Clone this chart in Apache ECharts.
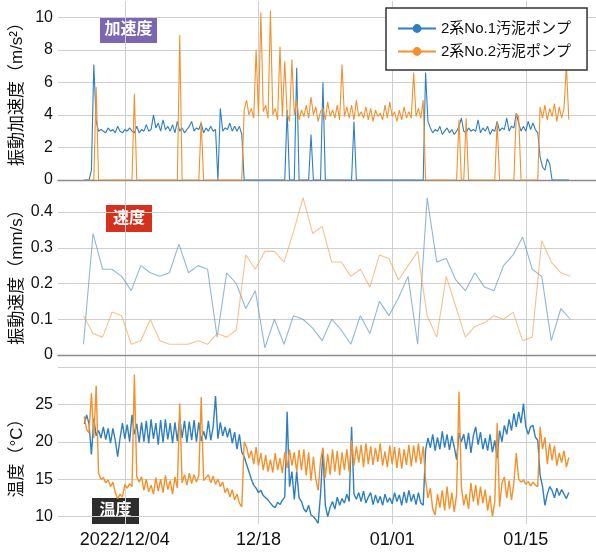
<!DOCTYPE html>
<html><head><meta charset="utf-8">
<script src="https://cdn.jsdelivr.net/npm/echarts@6/dist/echarts.min.js"></script>
<style>html,body{margin:0;padding:0;background:#fff}#c{width:596px;height:553px}</style>
</head><body><div id="c"></div>
<script>
// ---- data (x unit: days since 2022-11-27 00:00) ----
const seriesNames = ['2系No.1汚泥ポンプ', '2系No.2汚泥ポンプ'];
const xTickDays = [7, 21, 35, 49];
const xTickText = ['2022/12/04', '12/18', '01/01', '01/15'];

// 6-hourly samples starting 2022-11-29 18:00
const sampleStartDay = 2.75;
const sampleStepDay = 0.25;

const accelNo1 = [
 0,0,0,0.6, 7.1,3.6,3.0,3.1, 3.0,2.9,3.2,3.0, 3.1,2.9,3.3,3.0, 2.9,3.1,3.0,3.2,
 3.0,2.9,3.3,2.9, 3.1,3.0,3.4,3.0, 3.1,4.0,3.2,3.5, 3.0,3.7,3.1,3.3, 3.0,3.4,2.9,3.6,
 3.0,3.2,2.9,3.1, 3.3,3.6,3.0,3.2, 3.1,3.5,2.9,3.2, 3.0,3.3,3.0,3.1, 0,4.4,3.0,3.2,
 3.1,3.5,3.0,3.3, 3.0,3.3,2.8,0, 0,0,0,0, 0,0,0,0, 0,0,0,0,
 0,0,0,0, 0,4.3,0,0, 0,6.9,0,0, 0,0,0,2.8, 0,0,0,0,
 6.0,0,0,0, 0,0,0,0, 0,0,0,0, 0,3.6,0,0, 0,0,0,0,
 0,0,0,0, 0,0,0,0, 0,0,0,0, 0,0,0,0, 0,0,0,0,
 0,0,0,6.6, 3.6,3.2,2.9,3.1, 3.0,3.3,2.8,3.0, 3.2,2.9,3.1,2.8, 3.0,3.3,3.8,3.0,
 2.9,3.2,3.0,3.1, 3.0,3.7,2.9,3.2, 3.0,3.3,2.8,3.1, 3.0,3.6,3.0,3.2, 3.1,3.8,3.0,3.3,
 3.2,4.1,3.5,3.0, 3.3,3.0,3.6,3.1, 3.5,3.1,2.9,1.4, 0.8,0.6,1.3,1.0, 0,0,0,0,
 0,0,0,0
];
const accelNo2 = [
 0,0,0,0, 0,5.7,0,0, 0,0,0,0, 0,0,0,0, 0,0,0,0,
 0,5.3,0,0, 0,0,0,0, 0,0,0,0, 0,0,0,0, 0,0,0,0,
 8.9,0,0,0, 0,0,0,0, 0,3.6,0,0, 0,0,0,0, 0,0,0,0,
 0,0,0,0, 0,0,0,4.3, 4.9,4.0,4.4,3.8, 8.0,3.9,10.3,4.2, 4.6,3.8,10.4,4.0,
 4.4,3.7,8.2,3.9, 7.3,4.1,3.6,7.4, 4.0,4.9,3.7,4.3, 3.9,4.6,3.8,5.1, 4.0,4.5,3.6,4.2,
 4.4,3.7,4.8,3.9, 4.3,3.8,4.6,3.7, 7.1,3.9,4.5,3.8, 4.6,3.7,4.9,3.9, 4.2,3.8,4.5,3.7,
 4.4,3.6,4.3,3.9, 4.1,3.7,4.6,3.8, 4.8,3.9,4.2,3.6, 4.3,3.7,4.5,3.8, 4.2,3.8,6.6,3.9,
 4.4,3.8,4.9,0, 0,0,0,0, 0,0,0,0, 0,0,0,0, 0,3.7,0,0,
 3.8,0,0,0, 0,0,0,0, 0,0,0,0, 0,3.6,0,0, 0,0,0,0,
 0,4.1,3.9,0, 0,0,0,0, 0,0,0,4.5, 3.8,4.6,3.7,4.4, 3.9,4.7,3.6,4.5,
 3.8,4.4,7.1,3.7
];
const tempNo1 = [
 22.4,23.6,22.4,18.3, 23.1,20.8,21.5,20.5, 22.0,20.3,21.8,19.8, 21.8,20.2,18.0,20.5, 22.5,20.4,22.3,20.0,
 23.6,21.0,22.4,19.9, 22.6,20.0,22.8,19.8, 23.0,20.4,22.5,19.6, 22.9,19.9,23.0,20.3, 22.5,19.8,22.6,20.1,
 23.1,20.5,22.8,19.9, 22.7,20.2,22.9,20.0, 22.6,20.1,21.4,20.3, 22.8,20.2,22.0,26.1, 20.4,22.6,20.8,22.0,
 20.6,21.8,19.8,21.3, 19.0,21.0,18.6,18.0, 17.0,16.0,15.0,14.2, 13.8,13.2,13.5,12.8, 12.5,12.2,11.8,11.4,
 11.2,11.9,11.6,12.2, 12.6,24.0,14.0,16.0, 12.3,16.0,12.5,12.0, 11.0,10.6,11.5,10.2, 10.0,9.6,9.1,13.0,
 18.9,11.5,10.0,11.2, 12.0,11.0,12.6,11.5, 12.4,11.8,13.0,12.0, 22.0,13.0,12.3,13.2, 12.0,13.4,11.8,12.6,
 13.2,11.6,12.9,11.8, 12.7,11.5,13.0,11.9, 12.5,11.7,13.2,12.0, 12.9,11.5,13.3,11.8, 13.5,12.0,13.0,11.6,
 13.2,11.8,11.5,18.9, 20.5,19.2,21.0,18.8, 20.6,19.0,21.4,19.2, 21.0,18.9,20.8,19.3, 17.6,21.2,20.0,21.0,
 19.0,21.2,18.5,20.8, 22.0,19.6,21.3,19.0, 20.5,18.8,21.0,18.6, 20.2,17.8,21.5,20.0, 22.2,21.0,23.0,21.5,
 23.8,22.0,24.0,22.5, 25.1,22.0,21.0,22.0, 22.2,20.6,20.2,15.5, 14.0,11.5,13.0,14.0, 13.5,12.5,13.8,12.8,
 13.6,13.0,12.4,13.2
];
const tempNo2 = [
 23.4,21.6,21.2,26.5, 20.5,27.5,15.8,15.0, 15.2,14.5,14.9,14.0, 14.6,13.2,12.4,13.0, 12.6,14.3,13.8,14.4,
 14.0,29.0,15.3,14.6, 15.3,13.5,15.0,13.3, 14.2,13.0,15.2,13.4, 15.0,13.2,15.5,13.6, 14.8,13.0,15.3,13.8,
 25.1,14.5,15.6,14.2, 15.8,14.4,15.6,14.6, 15.5,26.0,14.8,15.2, 15.6,14.5,15.4,14.3, 15.0,14.0,14.6,13.2,
 13.8,12.6,13.6,12.2, 13.0,11.8,11.3,20.0, 19.3,17.8,18.8,17.0, 19.3,16.8,18.5,16.2, 18.2,16.0,17.6,15.9,
 18.5,16.2,17.8,15.8, 18.6,16.5,19.0,16.8, 18.6,16.0,18.9,16.2, 19.0,15.5,18.6,14.8, 18.0,15.0,13.5,17.5,
 19.2,15.2,18.4,15.6, 19.0,16.0,18.8,15.5, 18.6,16.2,19.0,16.0, 20.2,16.8,19.4,17.2, 19.6,16.6,19.8,17.0,
 19.4,16.9,19.2,17.3, 19.8,16.8,18.7,16.6, 19.5,17.0,19.3,16.5, 19.2,16.4,19.0,16.9, 19.6,16.7,19.5,17.2,
 19.8,17.0,19.4,14.9, 12.5,13.8,11.0,10.2, 13.0,11.2,13.5,10.8, 14.0,11.0,13.2,10.6, 13.0,26.7,14.0,11.5,
 13.0,11.0,14.5,12.0, 14.2,11.5,14.0,11.8, 13.6,10.8,12.8,10.0, 12.0,22.5,11.3,14.5, 15.3,12.5,14.8,12.2,
 14.5,18.5,15.0,14.6, 14.9,14.3,14.7,14.1, 14.6,14.2,14.0,22.0, 19.0,20.6,17.0,19.8, 17.5,19.5,16.8,18.5,
 17.2,18.8,16.6,17.9
];

// daily velocity values starting 2022-11-29 16:00
const velStartDay = 2.667;
const velStepDay = 1;
const velNo1 = [0.03,0.34,0.24,0.24,0.22,0.18,0.25,0.23,0.22,0.23,0.31,0.23,0.25,0.24,0.05,0.23,0.20,0.13,0.18,0.02,
 0.10,0.03,0.11,0.10,0.075,0.04,0.10,0.07,0.03,0.11,0.06,0.15,0.11,0.16,0.22,0.03,0.44,0.26,0.27,0.21,
 0.18,0.23,0.19,0.18,0.25,0.28,0.33,0.24,0.22,0.04,0.13,0.10];
const velNo2 = [0.11,0.06,0.05,0.12,0.11,0.03,0.04,0.10,0.04,0.03,0.03,0.03,0.04,0.03,0.06,0.05,0.07,0.28,0.24,0.29,
 0.29,0.26,0.345,0.44,0.34,0.36,0.26,0.26,0.22,0.24,0.19,0.28,0.27,0.21,0.25,0.29,0.11,0.05,0.22,0.135,
 0.05,0.08,0.09,0.11,0.10,0.12,0.04,0.05,0.32,0.26,0.23,0.22];

// ---- chart ----
const toPairs = (start, step, vals) => vals.map((v, i) => [start + i * step, v]);
const FONT = "'Liberation Sans', 'Noto Sans CJK JP', sans-serif";
const C1 = '#2f7fc0', C2 = '#f2912d';
const V1 = 'rgba(98,152,196,0.7)', V2 = 'rgba(242,160,80,0.65)';
const GRID = '#cfcfcf';

function xAxisFor(i) {
  return {
    type: 'value', gridIndex: i, min: 0, max: 56.35, interval: 7,
    splitLine: { show: true, showMaxLine: false, lineStyle: { color: ['rgba(0,0,0,0)', GRID], width: 1 } },
    axisTick: { show: false },
    axisLine: { show: i < 2, onZero: i < 2, lineStyle: { color: '#8c8c8c', width: 1.3 } },
    axisLabel: {
      show: i === 2, fontSize: 18, color: '#111', margin: 7, fontFamily: FONT,
      formatter: v => { const k = xTickDays.findIndex(d => Math.abs(d - v) < 1e-6); return k >= 0 ? xTickText[k] : ''; }
    }
  };
}
function yAxisFor(i, min, max, interval) {
  const a = {
    type: 'value', gridIndex: i, min, max,
    splitLine: { show: true, showMinLine: false, showMaxLine: i === 2, lineStyle: { color: GRID, width: 1 } },
    axisLine: { show: false }, axisTick: { show: false },
    axisLabel: { fontSize: 16, color: '#111', margin: 5, fontFamily: FONT, showMinLabel: i === 0, showMaxLabel: false }
  };
  if (interval) a.interval = interval;
  return a;
}
const line = (name, idx, data, color, width) => ({
  type: 'line', name, xAxisIndex: idx, yAxisIndex: idx, data,
  showSymbol: false, symbol: 'circle', silent: true,
  lineStyle: { color, width }, itemStyle: { color }
});

const box = (x, y, w, h, fill, text) => ({
  type: 'group', children: [
    { type: 'rect', shape: { x, y, width: w, height: h }, style: { fill } },
    { type: 'text', x: x + w / 2, y: y + h / 2, style: { text, fill: '#fff', fontSize: 16, fontWeight: 'bold', fontFamily: FONT, align: 'center', verticalAlign: 'middle' } }
  ]
});
const vTitle = (x, y, text) => ({
  type: 'text', x, y, rotation: Math.PI / 2,
  style: { text, fill: '#111', fontSize: 17, fontFamily: FONT, align: 'center', verticalAlign: 'middle' }
});

const chart = echarts.init(document.getElementById('c'), null, { renderer: 'canvas' });
chart.setOption({
  animation: false,
  backgroundColor: '#fff',
  textStyle: { fontFamily: FONT },
  grid: [
    { left: 58, right: 0, top: 1, height: 179, outerBoundsMode: 'none' },
    { left: 58, right: 0, top: 180, height: 187, outerBoundsMode: 'none' },
    { left: 58, right: 0, top: 367, height: 157, outerBoundsMode: 'none' }
  ],
  xAxis: [xAxisFor(0), xAxisFor(1), xAxisFor(2)],
  yAxis: [yAxisFor(0, 0, 11, 2), yAxisFor(1, -0.0336, 0.4896), yAxisFor(2, 9, 30)],
  legend: {
    data: seriesNames, orient: 'vertical', left: 386, top: 8,
    backgroundColor: '#fff', borderColor: '#333', borderWidth: 1.5, borderRadius: 0,
    padding: [13, 16, 11, 11], itemGap: 8, itemWidth: 38, itemHeight: 11,
    textStyle: { fontSize: 15, color: '#111', fontFamily: FONT }, selectedMode: false
  },
  graphic: [
    vTitle(17, 90, '振動加速度（m/s²）'),
    vTitle(17, 273, '振動速度（mm/s）'),
    vTitle(17, 454, '温度（°C）'),
    box(100, 17, 57, 26, '#7a66b2', '加速度'),
    box(106, 205, 46, 27, '#d6301f', '速度'),
    box(92, 498, 47, 26, '#2d2d2d', '温度')
  ],
  series: [
    line(seriesNames[0], 0, toPairs(sampleStartDay, sampleStepDay, accelNo1), C1, 1.1),
    line(seriesNames[1], 0, toPairs(sampleStartDay, sampleStepDay, accelNo2), C2, 1.1),
    line(seriesNames[0], 1, toPairs(velStartDay, velStepDay, velNo1), V1, 1.1),
    line(seriesNames[1], 1, toPairs(velStartDay, velStepDay, velNo2), V2, 1.1),
    line(seriesNames[0], 2, toPairs(sampleStartDay, sampleStepDay, tempNo1), C1, 1.4),
    line(seriesNames[1], 2, toPairs(sampleStartDay, sampleStepDay, tempNo2), C2, 1.4)
  ]
});
</script></body></html>
